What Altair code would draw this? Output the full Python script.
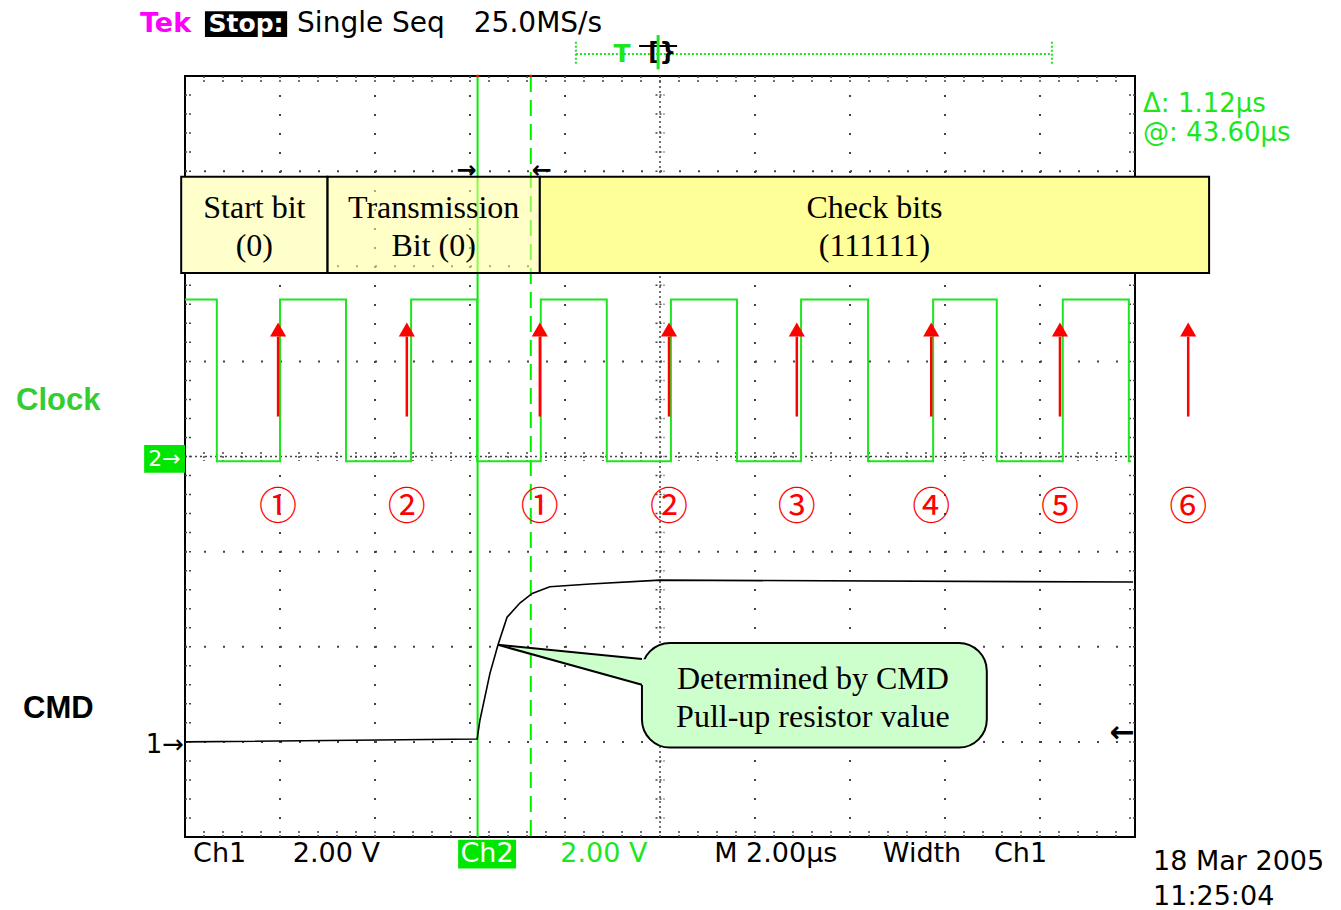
import altair as alt
import numpy as np
import pandas as pd

# Horizontal axis: time in µs (M 2.00 µs/div, 10 divisions)
# Vertical axis: screen divisions (8 divisions, 0 = centre line)
T_DOMAIN = [0, 20]
V_DOMAIN = [-4, 4]
PX_T = 950 / 20      # pixels per µs
PX_V = 761 / 8       # pixels per division

# Ch2 - clock: edge times (µs), the trace starts high
clock_edges = [0.67, 2.00, 3.39, 4.76, 6.15, 7.49, 8.88, 10.23,
               11.62, 12.97, 14.38, 15.75, 17.09, 18.48, 19.87]
clock_high = 1.65
clock_low = -0.05
clock_stop = 19.92

# Ch1 - CMD line (divisions)
cmd_t = [0.0, 6.15, 6.21, 6.42, 6.59, 6.78, 7.05, 7.31, 7.68, 8.53, 10.0, 19.96]
cmd_v = [-3.00, -2.97, -2.77, -2.28, -1.98, -1.69, -1.54, -1.44, -1.37, -1.34, -1.30, -1.32]

# Cursors
cursor_t = 6.16
cursor_delta = 1.12

# Bit-field boxes
field_line1 = ["Start bit", "Transmission", "Check bits"]
field_line2 = ["(0)", "Bit (0)", "(111111)"]
field_start = [-0.08, 3.0, 7.47]
field_end = [3.0, 7.47, 21.56]
field_fill = ["#ffffcc", "#ffff99", "#ffff99"]
field_alpha = [1.0, 0.55, 1.0]

# Sampling points (rising clock edges)
sample_t = [1.96, 4.67, 7.47, 10.19, 12.88, 15.71, 18.42, 21.12]
sample_label = ["①", "②", "①", "②", "③", "④", "⑤", "⑥"]

GREEN = "#1ee61e"
SCOPE_FONT = "DejaVu Sans"
SERIF = "Liberation Serif"


def X(field="t"):
    return alt.X(f"{field}:Q", scale=alt.Scale(domain=T_DOMAIN, nice=False, zero=False), axis=None)


def Y(field="v"):
    return alt.Y(f"{field}:Q", scale=alt.Scale(domain=V_DOMAIN, nice=False, zero=False), axis=None)


def vrules(df, **kw):
    return alt.Chart(df).mark_rule(**kw).encode(x=X("t"), y=Y("v0"), y2=alt.Y2("v1"))


def hrules(df, **kw):
    return alt.Chart(df).mark_rule(**kw).encode(x=X("t0"), x2=alt.X2("t1"), y=Y("v"))


def label(txt, t, v, size=28, color="black", font=SCOPE_FONT, weight="normal",
          align="left", baseline="alphabetic"):
    df = pd.DataFrame({"t": [t], "v": [v], "txt": [txt]})
    return alt.Chart(df).mark_text(
        align=align, baseline=baseline, font=font, fontSize=size,
        fontWeight=weight, color=color
    ).encode(x=X(), y=Y(), text="txt:N")


def box(t0, t1, v0, v1, fill):
    df = pd.DataFrame({"t0": [t0], "t1": [t1], "v0": [v0], "v1": [v1]})
    return alt.Chart(df).mark_rect(color=fill).encode(
        x=X("t0"), x2=alt.X2("t1"), y=Y("v0"), y2=alt.Y2("v1"))


# ---- graticule ----
major_t = [2, 4, 6, 8, 12, 14, 16, 18]
major_v = [-3, -2, -1, 1, 2, 3]
minor_t = np.round(np.arange(0.4, 20, 0.4), 2)
minor_v = np.round(np.arange(-3.8, 4, 0.2), 2)

grid_x = vrules(pd.DataFrame({"t": major_t, "v0": 4, "v1": -4}),
                color="#444", strokeWidth=2, strokeDash=[2, 17])
grid_y = hrules(pd.DataFrame({"v": major_v, "t0": 0, "t1": 20}),
                color="#444", strokeWidth=2, strokeDash=[2, 17])
centre_x = vrules(pd.DataFrame({"t": [10], "v0": 4, "v1": -4}),
                  color="#444", strokeWidth=1.5, strokeDash=[2, 3])
centre_y = hrules(pd.DataFrame({"v": [0], "t0": 0, "t1": 20}),
                  color="#444", strokeWidth=1.5, strokeDash=[2, 3])

tl = 6 / PX_V
border_tv = pd.concat([
    pd.DataFrame({"t": minor_t, "v0": 4, "v1": 4 - tl}),
    pd.DataFrame({"t": minor_t, "v0": -4, "v1": -4 + tl}),
    pd.DataFrame({"t": minor_t, "v0": 4.5 / PX_V, "v1": -4.5 / PX_V}),
])
tlx = 6 / PX_T
border_th = pd.concat([
    pd.DataFrame({"v": minor_v, "t0": 0, "t1": tlx}),
    pd.DataFrame({"v": minor_v, "t0": 20, "t1": 20 - tlx}),
    pd.DataFrame({"v": minor_v, "t0": 10 - 4.5 / PX_T, "t1": 10 + 4.5 / PX_T}),
])
ticks_v = vrules(border_tv, color="#444", strokeWidth=1.5, strokeDash=[2, 2])
ticks_h = hrules(border_th, color="#444", strokeWidth=1.5, strokeDash=[2, 2])

# ---- cursors ----
cur_solid = vrules(pd.DataFrame({"t": [cursor_t], "v0": 4, "v1": -4}),
                   color="#00ee00", strokeWidth=2)
cur_dash = vrules(pd.DataFrame({"t": [cursor_t + cursor_delta], "v0": 4, "v1": -4}),
                  color="#00ee00", strokeWidth=2, strokeDash=[16, 8])
cur_dots = alt.Chart(pd.DataFrame({"t": [cursor_t, cursor_t + cursor_delta], "v": [4, 4]})).mark_point(
    shape="square", filled=True, size=6, color="red", opacity=1).encode(x=X(), y=Y())
cur_arrows = (label("→", cursor_t - 0.02, 3.0, size=24, weight="bold", align="right", baseline="middle")
              + label("←", cursor_t + cursor_delta + 0.02, 3.0, size=24, weight="bold", baseline="middle"))

# ---- bit-field boxes ----
fields = pd.DataFrame({
    "t0": field_start, "t1": field_end, "fill": field_fill, "alpha": field_alpha,
    "line1": field_line1, "line2": field_line2,
})
fields["mid"] = (fields["t0"] + fields["t1"]) / 2
fields["v0"] = 2.94
fields["v1"] = 1.93
field_boxes = alt.Chart(fields).mark_rect(stroke="black", strokeWidth=2).encode(
    x=X("t0"), x2=alt.X2("t1"), y=Y("v0"), y2=alt.Y2("v1"),
    color=alt.Color("fill:N", scale=None),
    fillOpacity=alt.FillOpacity("alpha:Q", scale=None),
)
fields["va"] = 2.51
fields["vb"] = 2.11
field_text1 = alt.Chart(fields).mark_text(font=SERIF, fontSize=32, baseline="alphabetic", color="black").encode(
    x=X("mid"), y=Y("va"), text="line1:N")
field_text2 = alt.Chart(fields).mark_text(font=SERIF, fontSize=32, baseline="alphabetic", color="black").encode(
    x=X("mid"), y=Y("vb"), text="line2:N")

# ---- traces ----
ct, cv, level = [0.0], [clock_high], clock_high
for e in clock_edges:
    nxt = clock_low if level == clock_high else clock_high
    ct += [e, e]
    cv += [level, nxt]
    level = nxt
ct.append(clock_stop)
cv.append(level)
clock_df = pd.DataFrame({"t": ct, "v": cv, "i": range(len(ct))})
clock = alt.Chart(clock_df).mark_line(color=GREEN, strokeWidth=2).encode(
    x=X(), y=Y(), order="i:Q")

cmd_df = pd.DataFrame({"t": cmd_t, "v": cmd_v, "i": range(len(cmd_t))})
cmd = alt.Chart(cmd_df).mark_line(color="black", strokeWidth=1.6).encode(
    x=X(), y=Y(), order="i:Q")

# ---- sampling arrows and bit numbers ----
samples = pd.DataFrame({"t": sample_t, "lbl": sample_label})
samples["v0"] = 0.42
samples["v1"] = 1.26
samples["vh"] = 1.335
samples["vn"] = -0.54
shafts = vrules(samples, color="#ff0000", strokeWidth=2.5)
heads = alt.Chart(samples).mark_point(shape="triangle-up", filled=True, size=260,
                                      color="#ff0000", opacity=1).encode(x=X(), y=Y("vh"))
numbers = alt.Chart(samples).mark_text(font="Noto Sans CJK JP", fontSize=38, color="#ff0000",
                                       baseline="middle").encode(x=X(), y=Y("vn"), text="lbl:N")

# ---- callout ----
call_box = alt.Chart(pd.DataFrame({"t0": [9.62], "t1": [16.88], "v0": [-1.96], "v1": [-3.06]})).mark_rect(
    cornerRadius=28, fill="#ccffcc", stroke="black", strokeWidth=2).encode(
    x=X("t0"), x2=alt.X2("t1"), y=Y("v0"), y2=alt.Y2("v1"))
tip_t, tip_v = 6.59, -1.98
base_t, base_top, base_bot = 9.62, -2.13, -2.40
ext = 9.78
tail_df = pd.DataFrame({
    "t": [tip_t, ext],
    "v0": [tip_v, tip_v + (base_top - tip_v) * (ext - tip_t) / (base_t - tip_t)],
    "v1": [tip_v, tip_v + (base_bot - tip_v) * (ext - tip_t) / (base_t - tip_t)],
})
tail = alt.Chart(tail_df).mark_area(color="#ccffcc", opacity=1).encode(
    x=X(), y=Y("v0"), y2=alt.Y2("v1"))
tail_edges = alt.Chart(pd.DataFrame({
    "t0": [tip_t, tip_t], "v0": [tip_v, tip_v], "t1": [base_t, base_t], "v1": [base_top, base_bot]
})).mark_rule(color="black", strokeWidth=2).encode(
    x=X("t0"), y=Y("v0"), x2=alt.X2("t1"), y2=alt.Y2("v1"))
call_text = (label("Determined by CMD", 13.22, -2.44, size=32, font=SERIF, align="center")
             + label("Pull-up resistor value", 13.22, -2.84, size=32, font=SERIF, align="center"))

# ---- trigger position bar ----
trig_line = hrules(pd.DataFrame({"v": [4.23], "t0": [8.23], "t1": [18.25]}),
                   color=GREEN, strokeWidth=2, strokeDash=[2, 2])
trig_ends = vrules(pd.DataFrame({"t": [8.23, 18.25], "v0": [4.36, 4.36], "v1": [4.11, 4.11]}),
                   color=GREEN, strokeWidth=2, strokeDash=[2, 2])
trig_icon_bar = hrules(pd.DataFrame({"v": [4.315], "t0": [9.56], "t1": [10.36]}),
                       color="black", strokeWidth=2)
trig_icon = label("[}", 10.05, 4.24, size=24, weight="bold", align="center", baseline="middle")
trig_mark = vrules(pd.DataFrame({"t": [9.96], "v0": [4.43], "v1": [4.07]}),
                   color=GREEN, strokeWidth=3)
trig_T = label("T", 9.2, 4.15, size=25, weight="bold", color=GREEN, align="center")

# ---- screen text ----
header = (
    label("Tek", -0.947, 4.46, size=27, weight="bold", color="#ff00ff")
    + box(0.42, 2.15, 4.68, 4.41, "black")
    + label("Stop:", 1.285, 4.46, size=25, weight="bold", color="white", align="center")
    + label("Single Seq", 2.36, 4.46, size=28)
    + label("25.0MS/s", 6.08, 4.46, size=28)
)
readout = (
    label(f"Δ: {cursor_delta:.2f}µs", 20.17, 3.62, size=26, color=GREEN)
    + label("@: 43.60µs", 20.17, 3.32, size=26, color=GREEN)
)
footer = (
    label("Ch1", 0.17, -4.263, size=27)
    + label("2.00 V", 2.27, -4.263, size=27)
    + box(5.75, 6.97, -4.03, -4.33, "#00e600")
    + label("Ch2", 6.36, -4.263, size=27, color="white", align="center")
    + label("2.00 V", 7.9, -4.263, size=27, color=GREEN)
    + label("M 2.00µs", 11.14, -4.263, size=27)
    + label("Width", 14.69, -4.263, size=27)
    + label("Ch1", 17.03, -4.263, size=27)
    + label("18 Mar 2005", 20.38, -4.35, size=27)
    + label("11:25:04", 20.38, -4.72, size=27)
)
markers = (
    box(-0.86, 0.0, 0.12, -0.17, "#00e600")
    + label("2→", -0.43, -0.025, size=22, color="white", align="center", baseline="middle")
    + label("1→", -0.02, -3.12, size=26, align="right")
    + label("←", 20.0, -2.91, size=30, weight="bold", align="right", baseline="middle")
)
side = (
    label("Clock", -3.558, 0.49, size=31, weight="bold", color="#33cc33", font="Liberation Sans")
    + label("CMD", -3.41, -2.75, size=31, weight="bold", font="Liberation Sans")
)

chart = alt.layer(
    grid_x, grid_y, centre_x, centre_y, ticks_v, ticks_h,
    cur_solid, cur_dash, cur_dots, cur_arrows,
    field_boxes, field_text1, field_text2,
    clock, cmd,
    shafts, heads, numbers,
    call_box, tail, tail_edges, call_text,
    trig_line, trig_ends, trig_icon_bar, trig_icon, trig_mark, trig_T,
    header, readout, footer, markers, side,
).properties(
    width=950, height=761,
    autosize=alt.AutoSizeParams(type="none"),
    padding={"left": 185, "top": 76, "right": 206, "bottom": 73},
    background="white",
).configure_view(stroke="black", strokeWidth=2)

chart.save("out.html", embed_options={"renderer": "svg", "actions": False})
